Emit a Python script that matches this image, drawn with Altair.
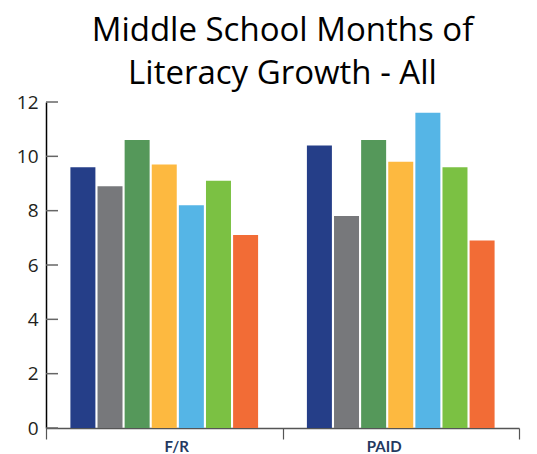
import altair as alt
import pandas as pd

groups = ["F/R", "PAID"]
series = ["Series 1", "Series 2", "Series 3", "Series 4", "Series 5", "Series 6", "Series 7"]
fr_values = [9.6, 8.9, 10.6, 9.7, 8.2, 9.1, 7.1]
paid_values = [10.4, 7.8, 10.6, 9.8, 11.6, 9.6, 6.9]
colors = ["#253E88", "#77787B", "#55985A", "#FDB940", "#55B5E6", "#7BC143", "#F26C36"]
y_ticks = [0, 2, 4, 6, 8, 10, 12]
title_lines = ["Middle School Months of", "Literacy Growth - All"]

rows = []
for g, vals in zip(groups, [fr_values, paid_values]):
    for s, v in zip(series, vals):
        rows.append({"group": g, "series": s, "value": v})
df = pd.DataFrame(rows)

bars = alt.Chart(df).mark_bar().encode(
    x=alt.X("group:N", sort=groups,
            scale=alt.Scale(paddingInner=0, paddingOuter=0),
            axis=alt.Axis(title=None, labelAngle=0, domainColor="#555555", domainWidth=1.5,
                          tickColor="#555555", tickWidth=1.2, tickSize=11, tickBand="extent",
                          labelFont="Lato", labelFontWeight="bold", labelFontSize=15,
                          labelColor="#24395F", labelPadding=0,
                          labelOffset=alt.ExprRef("datum.value == 'F/R' ? 12 : -17"))),
    xOffset=alt.XOffset("series:N", sort=series,
                        scale=alt.Scale(paddingInner=0.078, paddingOuter=0.9)),
    y=alt.Y("value:Q", scale=alt.Scale(domain=[0, 12], nice=False),
            axis=alt.Axis(title=None, values=y_ticks, ticks=False, grid=False,
                          domainColor="#000000", domainWidth=1.5,
                          labelFont="Open Sans", labelFontSize=19, labelColor="#231F20",
                          labelPadding=8)),
    color=alt.Color("series:N", scale=alt.Scale(domain=series, range=colors), legend=None),
)

ticks = alt.Chart(pd.DataFrame({"t": y_ticks})).mark_rule(color="#666666", strokeWidth=1.5).encode(
    y=alt.Y("t:Q"),
    x=alt.value(0),
    x2=alt.value(12),
)

chart = alt.layer(bars, ticks).properties(
    width=473,
    height=326,
    title=alt.TitleParams(text=title_lines, font="Open Sans", fontSize=33, fontWeight="normal",
                          color="#000000", lineHeight=43, anchor="middle", offset=2),
    autosize=alt.AutoSizeParams(type="none"),
    padding={"left": 46, "top": 102, "right": 18, "bottom": 26},
).configure_view(stroke=None)

chart.save("out.html", embed_options={"renderer": "svg", "actions": False})
